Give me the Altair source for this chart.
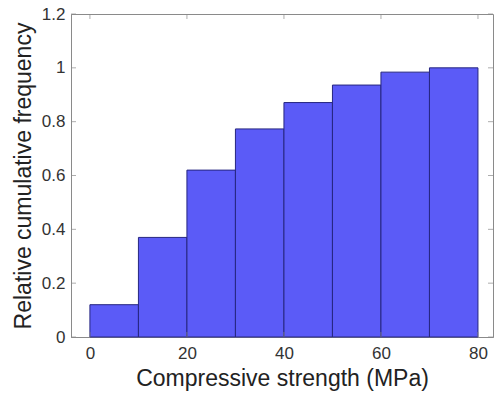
import altair as alt
import pandas as pd

bin_start = [0, 10, 20, 30, 40, 50, 60, 70]
bin_end = [10, 20, 30, 40, 50, 60, 70, 80]
cum_freq = [0.12, 0.37, 0.62, 0.773, 0.871, 0.936, 0.984, 1.0]
x_ticks = [0, 20, 40, 60, 80]
y_ticks = [0, 0.2, 0.4, 0.6, 0.8, 1.0, 1.2]

df = pd.DataFrame({"x0": bin_start, "x1": bin_end, "y": cum_freq})
xt = pd.DataFrame({"v": x_ticks})
yt = pd.DataFrame({"v": y_ticks})

W, H = 422, 323
FONT = "Liberation Sans"
AX = "#8a8a8a"
TXT = "#333333"

xs = alt.Scale(domain=[-3.9, 83.1], nice=False, zero=False)
ys = alt.Scale(domain=[0, 1.2], nice=False)

bars = alt.Chart(df).mark_rect(
    color="#5b5bf7", stroke="#262680", strokeWidth=1
).encode(
    x=alt.X("x0:Q", scale=xs, title="Compressive strength (MPa)",
            axis=alt.Axis(values=x_ticks, tickSize=0, labelPadding=8,
                          titlePadding=6)),
    x2="x1:Q",
    y=alt.Y("y:Q", scale=ys, title="Relative cumulative frequency",
            axis=alt.Axis(values=y_ticks, tickSize=0, labelPadding=6,
                          titlePadding=6, format="~g")),
    y2=alt.datum(0),
)

tick_len = 5
xtick_b = alt.Chart(xt).mark_tick(color=AX, size=tick_len, orient="vertical",
                                  yOffset=-tick_len / 2, thickness=1).encode(
    x=alt.X("v:Q", scale=xs), y=alt.value(H))
xtick_t = alt.Chart(xt).mark_tick(color=AX, size=tick_len, orient="vertical",
                                  yOffset=tick_len / 2, thickness=1).encode(
    x=alt.X("v:Q", scale=xs), y=alt.value(0))
ytick_l = alt.Chart(yt).mark_tick(color=AX, size=tick_len, orient="horizontal",
                                  xOffset=tick_len / 2, thickness=1).encode(
    y=alt.Y("v:Q", scale=ys), x=alt.value(0))
ytick_r = alt.Chart(yt).mark_tick(color=AX, size=tick_len, orient="horizontal",
                                  xOffset=-tick_len / 2, thickness=1).encode(
    y=alt.Y("v:Q", scale=ys), x=alt.value(W))

chart = alt.layer(bars, xtick_b, xtick_t, ytick_l, ytick_r).properties(
    width=W, height=H,
    autosize=alt.AutoSizeParams(type="none"),
    padding={"left": 71, "top": 14, "right": 1, "bottom": 65},
    background="white",
).configure_view(
    stroke=AX, strokeWidth=1
).configure_axis(
    grid=False, domain=True, domainColor=AX,
    labelFont=FONT, titleFont=FONT, labelFontSize=17, titleFontSize=23,
    labelColor=TXT, titleColor="#222222", titleFontWeight="normal",
)

chart.save("out.html", embed_options={"renderer": "svg", "actions": False})
